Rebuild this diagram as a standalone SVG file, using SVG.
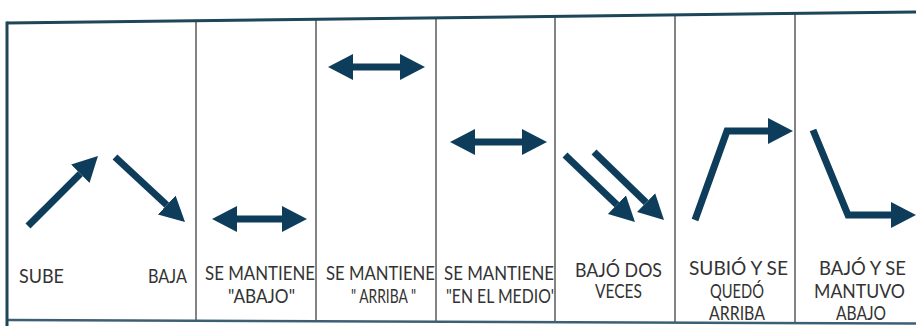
<svg xmlns="http://www.w3.org/2000/svg" width="916" height="326" viewBox="0 0 916 326">
<style>
  .grid-thick{stroke:#1d4658;stroke-width:3;fill:none}
  .grid-thin{stroke:#5a5a5a;stroke-width:1.5;fill:none}
  .grid-bottom{stroke:#3d5f74;stroke-width:2.5;fill:none}
  .arrow{stroke:#0e3d5b;stroke-width:7;fill:none;stroke-linejoin:miter}
  .lbl{font-family:"Lato","Liberation Sans",sans-serif;font-weight:400;font-size:19px;fill:#333333}
  .lbl2{font-family:"Lato","Liberation Sans",sans-serif;font-weight:400;font-size:20px;fill:#333333}
</style>
<defs>
  <marker id="head" markerUnits="userSpaceOnUse" markerWidth="26" markerHeight="28" viewBox="0 -14 26 28" refX="0" refY="0" orient="auto-start-reverse">
    <path d="M0,-13 L25,0 L0,13 z" fill="#0e3d5b"/>
  </marker>
</defs>
<rect width="916" height="326" fill="#ffffff"/>
<g id="grid">
  <line class="grid-thin" x1="196" y1="20.7" x2="196" y2="322"/>
  <line class="grid-thin" x1="316" y1="19.3" x2="316" y2="322"/>
  <line class="grid-thin" x1="436" y1="17.8" x2="436" y2="322"/>
  <line class="grid-thin" x1="555" y1="16.4" x2="555" y2="322"/>
  <line class="grid-thin" x1="675" y1="14.9" x2="675" y2="323"/>
  <line class="grid-thin" x1="795" y1="13.5" x2="795" y2="323"/>
  <line class="grid-bottom" x1="7" y1="320" x2="916" y2="323.5"/>
  <line class="grid-thick" x1="7" y1="23" x2="916" y2="12"/>
  <line class="grid-thick" x1="7" y1="21.5" x2="7" y2="326"/>
</g>
<g id="connectors">
  <line class="arrow" x1="28" y1="226" x2="80.3" y2="173.7" marker-end="url(#head)"/>
  <line class="arrow" x1="115" y1="157" x2="166.7" y2="205" marker-end="url(#head)"/>
  <line class="arrow" x1="237" y1="219" x2="282" y2="219" marker-start="url(#head)" marker-end="url(#head)"/>
  <line class="arrow" x1="353" y1="67" x2="400" y2="67" marker-start="url(#head)" marker-end="url(#head)"/>
  <line class="arrow" x1="475" y1="142" x2="522" y2="142" marker-start="url(#head)" marker-end="url(#head)"/>
  <line class="arrow" x1="565" y1="155" x2="616.9" y2="204.7" marker-end="url(#head)"/>
  <line class="arrow" x1="594" y1="152" x2="646.1" y2="202.6" marker-end="url(#head)"/>
  <polyline class="arrow" points="695,220 727,131 768,131" marker-end="url(#head)"/>
  <polyline class="arrow" points="813,130 848,215 891,215" marker-end="url(#head)"/>
</g>
<g id="col-sube-baja">
  <text class="lbl" x="19" y="283" textLength="45" lengthAdjust="spacingAndGlyphs">SUBE</text>
  <text class="lbl" x="148" y="283" textLength="39" lengthAdjust="spacingAndGlyphs">BAJA</text>
</g>
<g id="col-abajo">
  <text class="lbl" x="205" y="280" textLength="110" lengthAdjust="spacingAndGlyphs">SE MANTIENE</text>
  <text class="lbl" x="228" y="303" textLength="67" lengthAdjust="spacingAndGlyphs">"ABAJO"</text>
</g>
<g id="col-arriba">
  <text class="lbl" x="326" y="280" textLength="109" lengthAdjust="spacingAndGlyphs">SE MANTIENE</text>
  <text class="lbl" x="351" y="303" textLength="65" lengthAdjust="spacingAndGlyphs">" ARRIBA "</text>
</g>
<g id="col-medio">
  <text class="lbl" x="444" y="280" textLength="110" lengthAdjust="spacingAndGlyphs">SE MANTIENE</text>
  <text class="lbl" x="446" y="303" textLength="108" lengthAdjust="spacingAndGlyphs">"EN EL MEDIO'</text>
</g>
<g id="col-dos-veces">
  <text class="lbl" x="575" y="277" textLength="87" lengthAdjust="spacingAndGlyphs">BAJÓ DOS</text>
  <text class="lbl" x="595" y="298" textLength="47" lengthAdjust="spacingAndGlyphs">VECES</text>
</g>
<g id="col-subio">
  <text class="lbl2" x="689" y="275" textLength="99" lengthAdjust="spacingAndGlyphs">SUBIÓ Y SE</text>
  <text class="lbl2" x="710" y="298" textLength="54" lengthAdjust="spacingAndGlyphs">QUEDÓ</text>
  <text class="lbl2" x="709" y="320" textLength="56" lengthAdjust="spacingAndGlyphs">ARRIBA</text>
</g>
<g id="col-bajo">
  <text class="lbl2" x="819" y="275" textLength="87" lengthAdjust="spacingAndGlyphs">BAJÓ Y SE</text>
  <text class="lbl2" x="814" y="298" textLength="91" lengthAdjust="spacingAndGlyphs">MANTUVO</text>
  <text class="lbl2" x="836" y="320" textLength="50" lengthAdjust="spacingAndGlyphs">ABAJO</text>
</g>
</svg>
